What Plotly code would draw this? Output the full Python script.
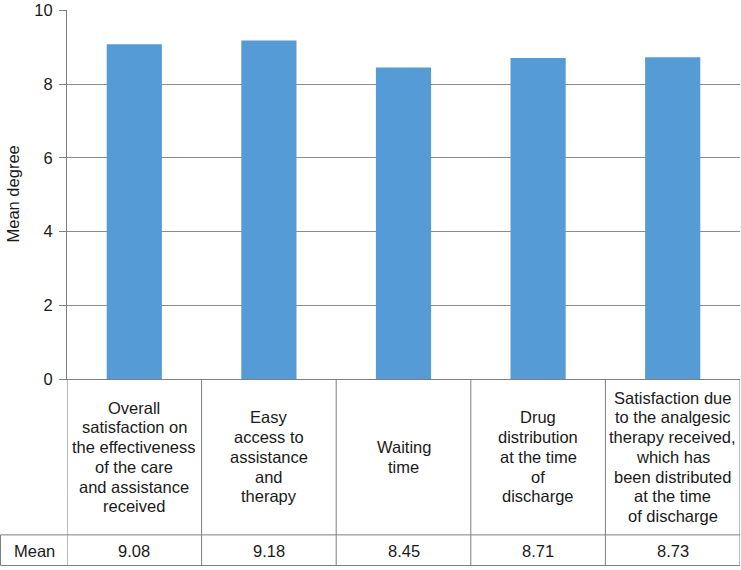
import plotly.graph_objects as go

categories = [
    ["Overall", "satisfaction on", "the effectiveness", "of the care", "and assistance", "received"],
    ["Easy", "access to", "assistance", "and", "therapy"],
    ["Waiting", "time"],
    ["Drug", "distribution", "at the time", "of", "discharge"],
    ["Satisfaction due", "to the analgesic", "therapy received,", "which has",
     "been distributed", "at the time", "of discharge"],
]
means = [9.08, 9.18, 8.45, 8.71, 8.73]
mean_labels = ["9.08", "9.18", "8.45", "8.71", "8.73"]
row_label = "Mean"
y_title = "Mean degree"
yticks = [0, 2, 4, 6, 8, 10]

W, H = 741, 570
ml, mr, mt, mb = 67, 1, 5, 191
plot_h = H - mt - mb
plot_w = W - ml - mr

def py(pix):
    return (H - mb - pix) / plot_h

def px(pix):
    return (pix - ml) / plot_w

FAM = "Liberation Sans, Arial, sans-serif"
TXT = "#1a1a1a"
xs = list(range(len(categories)))
fig = go.Figure()
fig.add_trace(go.Bar(x=xs, y=means, marker=dict(color="#559BD5", line=dict(width=0)),
                     width=0.41, hoverinfo="y"))

line_col = "#7f7f7f"
font = dict(family=FAM, size=16.5, color=TXT)

shapes = []
row_top = 537
bottom = 568
for i in range(len(categories) + 1):
    shapes.append(dict(type="line", xref="x", yref="paper", x0=i - 0.5, x1=i - 0.5,
                       y0=py(379), y1=py(bottom), line=dict(color=line_col, width=1)))
shapes.append(dict(type="line", xref="paper", yref="paper", x0=px(0.5), x1=1,
                   y0=py(row_top), y1=py(row_top), line=dict(color=line_col, width=1)))
shapes.append(dict(type="line", xref="paper", yref="paper", x0=px(0.5), x1=1,
                   y0=py(bottom), y1=py(bottom), line=dict(color=line_col, width=1)))
shapes.append(dict(type="line", xref="paper", yref="paper", x0=px(0.5), x1=px(0.5),
                   y0=py(row_top), y1=py(bottom), line=dict(color=line_col, width=1)))

annotations = []
LH = 20
cy = (379 + row_top) / 2
for i, lines in enumerate(categories):
    n = len(lines)
    for k, t in enumerate(lines):
        yc = cy + (k - (n - 1) / 2) * LH
        annotations.append(dict(x=i, xref="x", y=py(yc), yref="paper",
                                text=t, showarrow=False, font=font,
                                xanchor="center", yanchor="middle"))
    annotations.append(dict(x=i, xref="x", y=py((row_top + bottom) / 2 + 0.5), yref="paper",
                            text=mean_labels[i], showarrow=False, font=font,
                            xanchor="center", yanchor="middle"))
annotations.append(dict(x=px(34), xref="paper", y=py((row_top + bottom) / 2 + 0.5), yref="paper",
                        text=row_label, showarrow=False, font=font,
                        xanchor="center", yanchor="middle"))
annotations.append(dict(x=px(12), xref="paper", y=py(192), yref="paper", text=y_title,
                        textangle=-90, showarrow=False,
                        font=dict(family=FAM, size=16.5, color=TXT),
                        xanchor="center", yanchor="middle"))

fig.update_layout(
    width=W, height=H,
    margin=dict(l=ml, r=mr, t=mt, b=mb),
    plot_bgcolor="white", paper_bgcolor="white",
    showlegend=False,
    shapes=shapes, annotations=annotations,
    xaxis=dict(range=[-0.5, len(categories) - 0.5], showticklabels=False, ticks="",
               showgrid=False, zeroline=False, showline=True, linecolor=line_col,
               linewidth=1, fixedrange=True),
    yaxis=dict(range=[0, 10.01], tickvals=yticks, ticks="outside", ticklen=7,
               tickcolor=line_col, showgrid=True, gridcolor="#8c8c8c", gridwidth=1,
               zeroline=False, showline=True, linecolor=line_col, linewidth=1,
               ticklabeloverflow="allow", ticklabelstandoff=3,
               tickfont=dict(family=FAM, size=16.5, color=TXT),
               fixedrange=True),
)

fig.write_html("out.html", config={"displayModeBar": False},
               post_script="document.body.style.margin='0';document.body.style.overflow='hidden';")
